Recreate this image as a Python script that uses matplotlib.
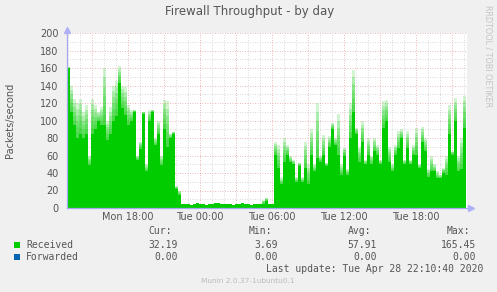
import matplotlib
matplotlib.use("Agg")
import matplotlib.pyplot as plt
import numpy as np
from matplotlib.patches import Rectangle

# ---- data (hours since Mon 00:00, 15-minute steps) ----
start_hour = 12.95
step_hours = 0.25
received_base = [160, 110, 95, 80, 85, 80, 85, 49, 85, 90, 99, 95, 95, 78, 85, 100, 105, 143, 114, 106,
                 95, 100, 110, 55, 68, 108, 42, 100, 110, 72, 85, 49, 90, 70, 80, 85, 22, 15,
                 5, 4.5, 5, 4, 5, 5.5, 4.5, 5, 4, 4.5, 5, 5.5, 6, 5, 4.5, 5, 4.5, 4, 4.5, 5, 5.5, 5, 4.5, 4, 4.5, 5, 5,
                 5, 8, 5, 5,
                 61, 46, 27, 53, 61, 53, 50, 30, 48, 30, 46, 27, 61, 42, 57, 53, 61, 48, 70, 90,
                 72, 61, 38, 60, 38, 80, 110, 85, 53, 75, 50, 61, 50, 65, 61, 50, 91, 99, 53, 42,
                 61, 69, 80, 50, 69, 50, 61, 61, 46, 75, 65, 35, 42, 42, 34, 34, 40, 38, 85, 61,
                 100, 42, 45, 91]
received_peak = [161, 140, 125, 120, 125, 110, 118, 60, 125, 118, 110, 115, 160, 100, 115, 140, 145, 162, 140, 138,
                 118, 112, 112, 60, 75, 110, 50, 112, 112, 80, 99, 60, 124, 122, 85, 87, 25, 20,
                 5, 4.5, 5, 4, 5, 5.5, 4.5, 5, 4, 4.5, 5, 5.5, 6, 5, 4.5, 5, 4.5, 4, 4.5, 5, 5.5, 5, 4.5, 4, 4.5, 5, 5,
                 9, 12, 5, 5,
                 76, 72, 35, 80, 72, 60, 55, 35, 52, 35, 76, 50, 90, 50, 120, 60, 84, 52, 82, 97,
                 80, 107, 50, 69, 45, 120, 158, 91, 70, 99, 55, 80, 60, 80, 72, 55, 122, 124, 70, 50,
                 72, 88, 90, 55, 88, 55, 72, 91, 50, 93, 80, 45, 59, 50, 42, 38, 46, 60, 118, 65,
                 126, 60, 80, 128]
y_ticks = [0, 20, 40, 60, 80, 100, 120, 140, 160, 180, 200]
x_tick_hours = [18, 24, 30, 36, 42]
x_tick_labels = ["Mon 18:00", "Tue 00:00", "Tue 06:00", "Tue 12:00", "Tue 18:00"]
legend_names = ["Received", "Forwarded"]
legend_cur = ["32.19", "0.00"]
legend_min = ["3.69", "0.00"]
legend_avg = ["57.91", "0.00"]
legend_max = ["165.45", "0.00"]

GREEN = "#00cc00"
BLUE = "#0066b3"
BG = "#f0f0f0"
TXT = "#555555"

W, H = 497, 292
fig = plt.figure(figsize=(W / 100, H / 100), dpi=100, facecolor=BG)
ax = fig.add_axes([67 / W, (H - 208) / H, 400 / W, 175 / H])
ax.set_facecolor("white")

n = len(received_base)
t = start_hour + step_hours * np.arange(n + 1)
base = np.array(received_base + [received_base[-1]], dtype=float)
peak = np.array(received_peak + [received_peak[-1]], dtype=float)

ax.fill_between(t, 0, base, step="post", color=GREEN, lw=0, zorder=3)
N = 6
for k in range(1, N + 1):
    ax.fill_between(t, base, base + (peak - base) * k / N, step="post",
                    color=GREEN, alpha=0.18, lw=0, zorder=3)

x_end = start_hour + 400 / 12
ax.set_xlim(start_hour, x_end)
ax.set_ylim(0, 200)

# grid
for v in range(10, 200, 10):
    if v % 20 != 0:
        ax.axhline(v, color="#cccccc", lw=0.6, ls=(0, (1, 2)), zorder=1)
for v in range(20, 201, 20):
    ax.axhline(v, color="#e5a0a0", lw=0.6, ls=(0, (1, 2)), zorder=2)
for h in range(13, 47):
    if h % 3 != 0:
        ax.axvline(h, color="#cccccc", lw=0.6, ls=(0, (1, 2)), zorder=1)
    else:
        ax.axvline(h, color="#e5a0a0", lw=0.6, ls=(0, (1, 2)), zorder=2)

for s in ax.spines.values():
    s.set_visible(False)
ax.axhline(0, color="#a8a8f0", lw=0.9, zorder=5, clip_on=False)
ax.axvline(start_hour, color="#a8a8f0", lw=0.9, zorder=5, clip_on=False)
ax.plot([start_hour], [203], marker="^", color="#b0b0f8", ms=4, clip_on=False, zorder=6)
ax.plot([x_end + 0.3], [0], marker=">", color="#b0b0f8", ms=4, clip_on=False, zorder=6)

ax.set_yticks(y_ticks)
ax.set_yticklabels([str(v) for v in y_ticks])
ax.set_xticks(x_tick_hours)
ax.set_xticklabels(x_tick_labels)
ax.tick_params(axis="both", length=0, labelsize=7, labelcolor=TXT, pad=3)
ax.tick_params(axis="y", pad=6)

fig.text(10 / W, 1 - 120 / H, "Packets/second", rotation=90, ha="center", va="center",
         fontsize=7, color=TXT)
fig.text(250 / W, 1 - 12 / H, "Firewall Throughput - by day", ha="center", va="center",
         fontsize=8.5, color=TXT)
fig.text(488 / W, 1 - 56 / H, "RRDTOOL / TOBI OETIKER", rotation=270, ha="center", va="center",
         fontsize=5.8, color="#c4c4c4")

mono = "DejaVu Sans Mono"
fs = 7
def ftxt(x, y, s, ha="left", color=TXT, size=fs, family=mono):
    fig.text(x / W, 1 - y / H, s, ha=ha, va="center", fontsize=size, color=color, family=family)

ftxt(172, 231, "Cur:", ha="right")
ftxt(272, 231, "Min:", ha="right")
ftxt(371, 231, "Avg:", ha="right")
ftxt(470, 231, "Max:", ha="right")
rows_y = [245, 257]
colors = [GREEN, BLUE]
for i in range(2):
    y = rows_y[i]
    fig.add_artist(Rectangle((14 / W, 1 - (y + 3) / H), 6 / W, 6 / H, transform=fig.transFigure,
                             color=colors[i], lw=0))
    ftxt(26, y, legend_names[i])
    ftxt(178, y, legend_cur[i], ha="right")
    ftxt(278, y, legend_min[i], ha="right")
    ftxt(377, y, legend_avg[i], ha="right")
    ftxt(476, y, legend_max[i], ha="right")
ftxt(483, 269, "Last update: Tue Apr 28 22:10:40 2020", ha="right")
ftxt(248, 281, "Munin 2.0.37-1ubuntu0.1", ha="center", color="#bbbbbb", size=5.3, family="DejaVu Sans")

fig.savefig("out.png", dpi=100, facecolor=BG)
